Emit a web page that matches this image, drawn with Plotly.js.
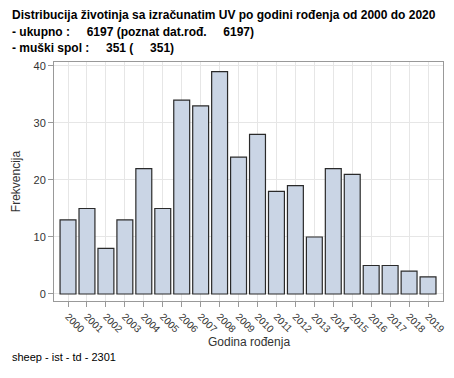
<!DOCTYPE html>
<html><head><meta charset="utf-8">
<script src="https://cdn.plot.ly/plotly-3.0.1.min.js"></script>
<style>body{margin:0}#c{width:454px;height:378px;outline:1px solid #c8c8c8;outline-offset:-1px}</style>
</head><body><div id="c"></div>
<script>
const years = ['2000','2001','2002','2003','2004','2005','2006','2007','2008','2009','2010','2011','2012','2013','2014','2015','2016','2017','2018','2019'];
const counts = [13,15,8,13,22,15,34,33,39,24,28,18,19,10,22,21,5,5,4,3];
const titleLines = ['Distribucija životinja sa izračunatim UV po godini rođenja od 2000 do 2020',
  '- ukupno :\u00a0\u00a0\u00a0\u00a0 6197 (poznat dat.rođ.\u00a0\u00a0\u00a0\u00a0 6197)',
  '- muški spol :\u00a0\u00a0\u00a0\u00a0 351 (\u00a0\u00a0\u00a0\u00a0 351)'];
const footnote = 'sheep - ist - td - 2301';
const xTitle = 'Godina rođenja';
const yTitle = 'Frekvencija';

const L=54,R=443,T=62,B=301;
const px = x => (x-L)/(R-L);
const py = y => (B-y)/(B-T);
const F = 'Liberation Sans, Arial, sans-serif';
const ann = titleLines.map((t,i)=>({text:'<b>'+t+'</b>',xref:'paper',yref:'paper',x:px(10),y:py([15,32,48][i]),xanchor:'left',yanchor:'middle',showarrow:false,font:{family:F,size:12,color:'#000'}}));
ann.push({text:footnote,xref:'paper',yref:'paper',x:px(10),y:py(357),xanchor:'left',yanchor:'middle',showarrow:false,font:{family:F,size:11,color:'#000'}});
ann.push({text:xTitle,xref:'paper',yref:'paper',x:0.5,y:py(342),xanchor:'center',yanchor:'middle',showarrow:false,font:{family:F,size:12,color:'#333'}});

Plotly.newPlot('c',[{type:'bar',x:years,y:counts,width:0.84,
  marker:{color:'#cad5e5',line:{color:'#2a2a2a',width:1.2}},hoverinfo:'none'}],
{width:454,height:378,margin:{l:L,r:454-R,t:T,b:378-B},
 paper_bgcolor:'#fff',plot_bgcolor:'#fff',showlegend:false,
 font:{family:F,size:11,color:'#333'},
 xaxis:{type:'category',range:[-0.74,19.79],tickangle:45,ticks:'outside',ticklen:5,tickcolor:'#999',
   showgrid:true,gridcolor:'#e6e6e6',showline:true,linecolor:'#999',mirror:true,zeroline:false,
   tickfont:{size:10,color:'#333'}},
 yaxis:{range:[-1.23,40.7],tickvals:[0,10,20,30,40],ticks:'outside',ticklen:5,tickcolor:'#999',
   showgrid:true,gridcolor:'#e6e6e6',showline:true,linecolor:'#999',mirror:true,zeroline:false,
   tickfont:{size:11,color:'#333'},title:{text:yTitle,font:{size:12,color:'#333'},standoff:10}},
 annotations:ann},{staticPlot:true});
</script></body></html>
